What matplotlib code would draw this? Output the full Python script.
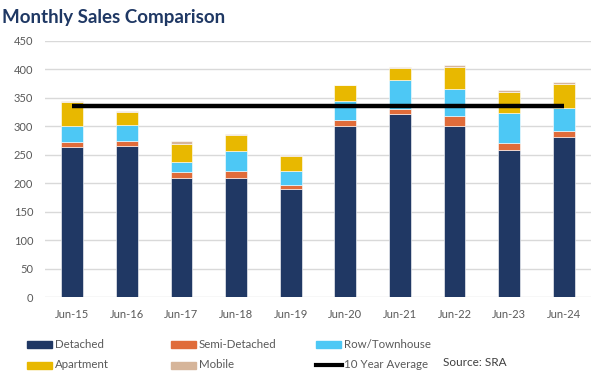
import matplotlib
matplotlib.use("Agg")
import matplotlib.pyplot as plt
from matplotlib.patches import Rectangle
from matplotlib.lines import Line2D
import numpy as np

plt.rcParams['font.family'] = ['Lato', 'DejaVu Sans']

categories = ["Jun-15", "Jun-16", "Jun-17", "Jun-18", "Jun-19",
              "Jun-20", "Jun-21", "Jun-22", "Jun-23", "Jun-24"]
detached = [264, 266, 210, 210, 190, 300, 321, 301, 258, 282]
semi_detached = [9, 9, 10, 12, 7, 12, 9, 18, 12, 9]
row_townhouse = [28, 28, 18, 34, 25, 33, 51, 47, 53, 42]
apartment = [42, 22, 31, 28, 25, 27, 22, 39, 38, 42]
mobile = [1, 2, 6, 2, 2, 1, 2, 2, 3, 3]
ten_year_avg = [335] * 10

series = [
    ("Detached", detached, "#203864"),
    ("Semi-Detached", semi_detached, "#E06C3A"),
    ("Row/Townhouse", row_townhouse, "#4DC8F5"),
    ("Apartment", apartment, "#E8B800"),
    ("Mobile", mobile, "#D6B59A"),
]

W, H = 604, 372
fig = plt.figure(figsize=(W / 100, H / 100), dpi=100)
ax = fig.add_axes([45 / W, 1 - 297 / H, (591 - 45) / W, (297 - 41) / H])

x = np.arange(len(categories))
bottom = np.zeros(len(categories))
for name, vals, color in series:
    ax.bar(x, vals, width=0.4, bottom=bottom, color=color,
           edgecolor="white", linewidth=0.4, zorder=3)
    bottom += np.array(vals)

ax.plot(x, ten_year_avg, color="black", linewidth=3.2, zorder=4,
        solid_capstyle="butt")

ax.set_xlim(-0.5, len(categories) - 0.5)
ax.set_ylim(0, 450)
ax.set_yticks(np.arange(0, 451, 50))
ax.set_xticks(x)
ax.set_xticklabels(categories)
ax.tick_params(axis="both", length=0, labelsize=8, colors="#595959")
ax.tick_params(axis="x", pad=9)
ax.tick_params(axis="y", pad=8.5)
ax.grid(axis="y", color="#d9d9d9", linewidth=1, zorder=0)
for s in ax.spines.values():
    s.set_visible(False)

fig.text(2 / W, 1 - 17 / H, "Monthly Sales Comparison", fontsize=13.5,
         fontweight="bold", color="#1F3864", va="center", ha="left")

# legend
legend_items = [
    ("Detached", "#203864", 27, 344, "patch"),
    ("Semi-Detached", "#E06C3A", 171, 344, "patch"),
    ("Row/Townhouse", "#4DC8F5", 316, 344, "patch"),
    ("Apartment", "#E8B800", 27, 365, "patch"),
    ("Mobile", "#D6B59A", 171, 365, "patch"),
    ("10 Year Average", "black", 316, 365, "line"),
]
for label, color, px, py, kind in legend_items:
    if kind == "patch":
        fig.patches.append(Rectangle((px / W, 1 - (py + 3.5) / H), 25 / W, 7 / H,
                                     transform=fig.transFigure, color=color))
    else:
        fig.lines.append(Line2D([px / W, (px + 26) / W], [1 - py / H, 1 - py / H],
                                transform=fig.transFigure, color=color, linewidth=3))
    fig.text((px + 28) / W, 1 - py / H, label, fontsize=8.3, color="#595959",
             va="center", ha="left")

fig.text(507 / W, 1 - 362 / H, "Source: SRA", fontsize=8.5, color="#404040",
         va="center", ha="right")

fig.savefig("out.png", dpi=100)
